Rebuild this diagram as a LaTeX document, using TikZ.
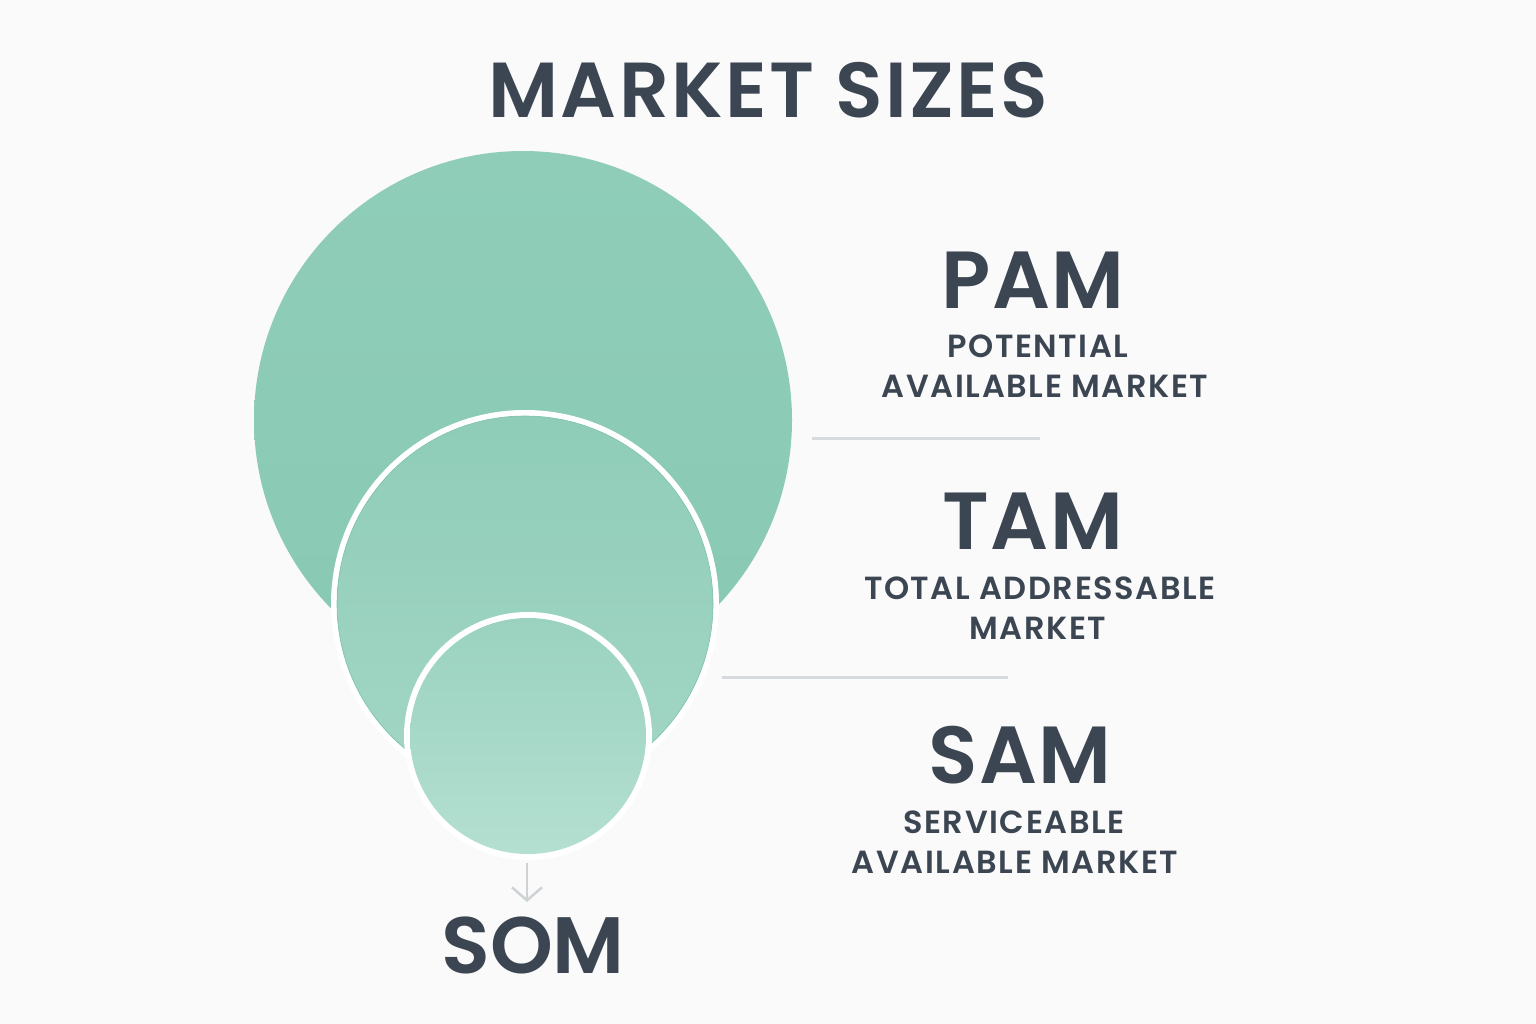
\documentclass[tikz,border=0pt]{standalone}
\usepackage{fontspec}
\setmainfont{Poppins}
\newfontfamily\popt[LetterSpace=3]{Poppins SemiBold}
\newfontfamily\popw[LetterSpace=2]{Poppins SemiBold}
\newfontfamily\popx[LetterSpace=0]{Poppins SemiBold}
\newfontfamily\pops[LetterSpace=5]{Poppins SemiBold}
\usetikzlibrary{arrows.meta}
\definecolor{bgc}{HTML}{FAFAFA}
\definecolor{ink}{HTML}{3B4652}
\definecolor{tealA}{HTML}{89C9B4}
\definecolor{tealB}{HTML}{8FCDB8}
\definecolor{tealC}{HTML}{A3D6C5}
\definecolor{tealD}{HTML}{9AD2BF}
\definecolor{tealE}{HTML}{B4DFD1}
\definecolor{edge}{HTML}{7CC2AA}
\definecolor{rule}{HTML}{D6D9DD}
\definecolor{arr}{HTML}{CED4D6}
\tikzset{
  title/.style={text=ink,font=\popt\fontsize{78}{80}\selectfont,inner sep=0pt},
  big/.style={text=ink,font=\popw\fontsize{81}{82}\selectfont,inner sep=0pt},
  sub/.style={text=ink,font=\pops\fontsize{32}{40}\selectfont,inner sep=0pt,align=center},
  sep/.style={rule,line width=3pt},
}
\begin{document}
\begin{tikzpicture}[x=1pt,y=-1pt]
\fill[bgc] (0,0) rectangle (1536,1024);
\useasboundingbox (0,0) rectangle (1536,1024);
% big circle
\shade[top color=tealB,bottom color=tealA] (523,420) circle[radius=269];
% middle circle
\fill[white] (525,604) circle[radius=194];
\shade[top color=tealB,bottom color=tealC,draw=edge,line width=0.6pt] (525,604) circle[radius=188];
% small circle
\fill[white] (528,736) circle[radius=124];
\shade[top color=tealD,bottom color=tealE,draw=none] (528,736) circle[radius=118];
\node[coordinate] (somtop) at (527,863) {};
\node[text=ink,font=\popx\fontsize{80}{82}\selectfont,inner sep=0pt] (som) at (533,945) {SOM};
\draw[arr,line width=2.5pt,-{Straight Barb[length=13pt,width=30pt,line width=2.5pt]}] (somtop) -- (527,902);
\node[title] (t) at (768,90) {MARKET SIZES};
% separators
\coordinate (l1a) at (812,438); \coordinate (l1b) at (1040,438);
\coordinate (l2a) at (722,677); \coordinate (l2b) at (1008,677);
\draw[sep] (l1a) -- (l1b);
\draw[sep] (l2a) -- (l2b);
% labels
\node[big] (pam) at (1033,280) {PAM};
\node[sub] (pam1) at (1038,346) {POTENTIAL};
\node[sub] (pam2) at (1045,386) {AVAILABLE MARKET};
\node[big] (tam) at (1033,521) {TAM};
\node[sub] (tam1) at (1040,588) {TOTAL ADDRESSABLE};
\node[sub] (tam2) at (1038,628) {MARKET};
\node[big] (sam) at (1020,755) {SAM};
\node[sub] (sam1) at (1014,822) {SERVICEABLE};
\node[sub] (sam2) at (1015,862) {AVAILABLE MARKET};
\end{tikzpicture}
\end{document}
